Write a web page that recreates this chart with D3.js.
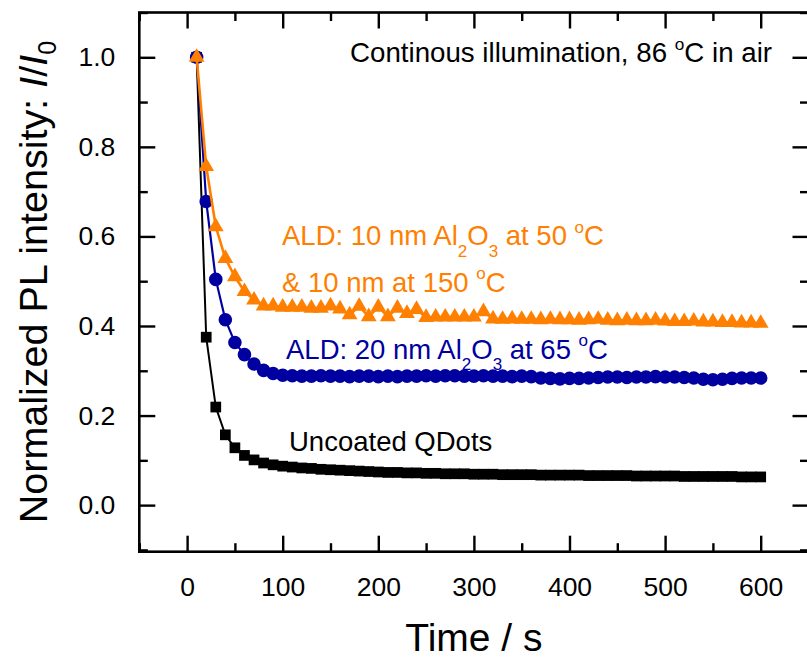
<!DOCTYPE html>
<html>
<head>
<meta charset="utf-8">
<script src="https://cdn.jsdelivr.net/npm/d3@7"></script>
<style>
  body { margin: 0; background: #fff; }
  svg text { font-family: "Liberation Sans", Arial, sans-serif; }
</style>
</head>
<body>
<div id="chart"></div>
<script>
// time in seconds
const times = [
    10, 20, 30, 40, 50, 60, 70, 80, 90, 100,
    110, 120, 130, 140, 150, 160, 170, 180, 190, 200,
    210, 220, 230, 240, 250, 260, 270, 280, 290, 300,
    310, 320, 330, 340, 350, 360, 370, 380, 390, 400,
    410, 420, 430, 440, 450, 460, 470, 480, 490, 500,
    510, 520, 530, 540, 550, 560, 570, 580, 590, 600
];

const uncoated = [
    1.0, 0.375, 0.219, 0.157, 0.128, 0.111, 0.101, 0.094, 0.090, 0.087,
    0.085, 0.083, 0.082, 0.080, 0.079, 0.078, 0.077, 0.076, 0.075, 0.074,
    0.073, 0.073, 0.072, 0.072, 0.071, 0.071, 0.070, 0.070, 0.070, 0.069,
    0.069, 0.069, 0.068, 0.068, 0.068, 0.068, 0.067, 0.067, 0.067, 0.067,
    0.067, 0.066, 0.066, 0.066, 0.066, 0.066, 0.065, 0.065, 0.065, 0.065,
    0.065, 0.064, 0.064, 0.064, 0.064, 0.064, 0.064, 0.063, 0.063, 0.063
];

const ald20 = [
    1.0, 0.678, 0.504, 0.414, 0.363, 0.336, 0.315, 0.301, 0.294, 0.290,
    0.289, 0.288, 0.288, 0.289, 0.288, 0.288, 0.287, 0.288, 0.288, 0.287,
    0.288, 0.287, 0.288, 0.288, 0.289, 0.288, 0.289, 0.289, 0.288, 0.288,
    0.289, 0.288, 0.288, 0.287, 0.288, 0.287, 0.284, 0.283, 0.282, 0.283,
    0.283, 0.284, 0.285, 0.286, 0.286, 0.285, 0.286, 0.286, 0.287, 0.286,
    0.286, 0.285, 0.284, 0.281, 0.280, 0.281, 0.283, 0.284, 0.284, 0.284
];

const ald10x2 = [
    1.0, 0.756, 0.622, 0.551, 0.510, 0.477, 0.458, 0.445, 0.445, 0.442,
    0.442, 0.442, 0.440, 0.440, 0.445, 0.438, 0.425, 0.444, 0.421, 0.442,
    0.421, 0.440, 0.428, 0.437, 0.419, 0.420, 0.420, 0.420, 0.420, 0.420,
    0.432, 0.416, 0.415, 0.416, 0.415, 0.415, 0.414, 0.415, 0.414, 0.414,
    0.413, 0.414, 0.415, 0.413, 0.412, 0.413, 0.412, 0.412, 0.413, 0.411,
    0.410, 0.410, 0.411, 0.409, 0.409, 0.408, 0.408, 0.407, 0.407, 0.406
];

const xMajorTicks = [0, 100, 200, 300, 400, 500, 600];
const xMinorTicks = [-50, 50, 150, 250, 350, 450, 550, 650];
const yMajorTicks = [0.0, 0.2, 0.4, 0.6, 0.8, 1.0];
const yMinorTicks = [-0.1, 0.1, 0.3, 0.5, 0.7, 0.9, 1.1];

// annotation text pieces: [text, kind]
const titleNote = [["Continous illumination, 86 "], ["o", "sup"], ["C in air"]];
const noteAld10a = [["ALD: 10 nm Al"], ["2", "sub"], ["O"], ["3", "sub"], [" at 50 "], ["o", "sup"], ["C"]];
const noteAld10b = [["& 10 nm at 150 "], ["o", "sup"], ["C"]];
const noteAld20 = [["ALD: 20 nm Al"], ["2", "sub"], ["O"], ["3", "sub"], [" at 65 "], ["o", "sup"], ["C"]];
const noteUncoated = [["Uncoated QDots"]];

const width = 807, height = 658;
const plot = { l: 139.3, r: 808.5, t: 12.5, b: 551.7 };

const x = d3.scaleLinear().domain([-50, 650]).range([plot.l, plot.r]);
const y = d3.scaleLinear().domain([-0.104, 1.1]).range([plot.b, plot.t]);

const svg = d3.select("#chart").append("svg")
    .attr("width", width)
    .attr("height", height);

const tickStroke = 2.4;
const tickFont = 26.5;

function styleAxis(g) {
    g.attr("font-size", tickFont).attr("font-family", "'Liberation Sans', Arial, sans-serif");
    g.select(".domain").remove();
    g.selectAll(".tick line").attr("stroke", "#000").attr("stroke-width", tickStroke);
    g.selectAll("text").attr("fill", "#000");
}

// bottom axis with labels
svg.append("g")
    .attr("transform", `translate(0,${plot.b})`)
    .call(d3.axisBottom(x).tickValues(xMajorTicks).tickSize(-16).tickPadding(25).tickFormat(d3.format("d")))
    .call(styleAxis);

svg.append("g")
    .attr("transform", `translate(0,${plot.b})`)
    .call(d3.axisBottom(x).tickValues(xMinorTicks).tickSize(-8.5).tickFormat(""))
    .call(styleAxis);

// top mirrored ticks
svg.append("g")
    .attr("transform", `translate(0,${plot.t})`)
    .call(d3.axisTop(x).tickValues(xMajorTicks).tickSize(-16).tickFormat(""))
    .call(styleAxis);

svg.append("g")
    .attr("transform", `translate(0,${plot.t})`)
    .call(d3.axisTop(x).tickValues(xMinorTicks).tickSize(-8.5).tickFormat(""))
    .call(styleAxis);

// left axis with labels
svg.append("g")
    .attr("transform", `translate(${plot.l},0)`)
    .call(d3.axisLeft(y).tickValues(yMajorTicks).tickSize(-16).tickPadding(24).tickFormat(d3.format(".1f")))
    .call(styleAxis);

svg.append("g")
    .attr("transform", `translate(${plot.l},0)`)
    .call(d3.axisLeft(y).tickValues(yMinorTicks).tickSize(-8.5).tickFormat(""))
    .call(styleAxis);

// right mirrored ticks
svg.append("g")
    .attr("transform", `translate(${plot.r},0)`)
    .call(d3.axisRight(y).tickValues(yMajorTicks).tickSize(-16).tickFormat(""))
    .call(styleAxis);

svg.append("g")
    .attr("transform", `translate(${plot.r},0)`)
    .call(d3.axisRight(y).tickValues(yMinorTicks).tickSize(-8.5).tickFormat(""))
    .call(styleAxis);

// frame
svg.append("rect")
    .attr("x", plot.l)
    .attr("y", plot.t)
    .attr("width", plot.r - plot.l)
    .attr("height", plot.b - plot.t)
    .attr("fill", "none")
    .attr("stroke", "#000")
    .attr("stroke-width", 2.6);

// axis titles
svg.append("text")
    .attr("x", (plot.l + plot.r) / 2)
    .attr("y", 651)
    .attr("text-anchor", "middle")
    .attr("font-size", 39)
    .text("Time / s");

const yTitle = svg.append("text")
    .attr("text-anchor", "middle")
    .attr("font-size", 39.5)
    .attr("transform", `translate(47,${(plot.t + plot.b) / 2}) rotate(-90)`);
yTitle.append("tspan").text("Normalized PL intensity: ");
yTitle.append("tspan").attr("font-style", "italic").text("I");
yTitle.append("tspan").text("/");
yTitle.append("tspan").attr("font-style", "italic").text("I");
yTitle.append("tspan").attr("font-size", 25).attr("dy", 9).text("0");

// series
const series = [
    { name: "uncoated", values: uncoated, color: "#000000", symbol: d3.symbolSquare, size: 115, lineWidth: 2 },
    { name: "ald20", values: ald20, color: "#0000A0", symbol: d3.symbolCircle, size: Math.PI * 6.8 * 6.8, lineWidth: 2.2 },
    { name: "ald10x2", values: ald10x2, color: "#FF8000", symbol: d3.symbolTriangle, size: 108, lineWidth: 2.6 }
];

const line = d3.line()
    .x(d => x(d.t))
    .y(d => y(d.v));

const seriesGroup = svg.append("g")
    .selectAll("g")
    .data(series)
    .join("g")
    .attr("class", d => d.name);

seriesGroup.append("path")
    .attr("fill", "none")
    .attr("stroke", d => d.color)
    .attr("stroke-width", d => d.lineWidth)
    .attr("d", d => line(d.values.map((v, i) => ({ t: times[i], v }))));

seriesGroup.each(function(s) {
    d3.select(this).selectAll(".marker")
        .data(s.values.map((v, i) => ({ t: times[i], v })))
        .join("path")
        .attr("class", "marker")
        .attr("transform", d => `translate(${x(d.t)},${y(d.v)})`)
        .attr("d", d3.symbol(s.symbol, s.size))
        .attr("fill", s.color);
});

// annotations; sub/superscripts shift the baseline, the next piece shifts it back
function richText(parts, px, py, size, color) {
    const t = svg.append("text")
        .attr("x", px)
        .attr("y", py)
        .attr("font-size", size)
        .attr("fill", color);
    let back = 0;
    parts.forEach(([str, kind]) => {
        const span = t.append("tspan").text(str);
        let shift = 0;
        if (kind === "sub") shift = size * 0.42;
        if (kind === "sup") shift = -size * 0.45;
        if (kind) span.attr("font-size", size * 0.62);
        if (back + shift !== 0) span.attr("dy", back + shift);
        back = -shift;
    });
    return t;
}

richText(titleNote, 350, 62, 27.7, "#000");
richText(noteAld10a, 282, 245, 27.5, "#FF8000");
richText(noteAld10b, 282, 291.5, 27.5, "#FF8000");
richText(noteAld20, 286, 358.5, 27.5, "#0000A0");
richText(noteUncoated, 289, 450.5, 27.5, "#000");
</script>
</body>
</html>
